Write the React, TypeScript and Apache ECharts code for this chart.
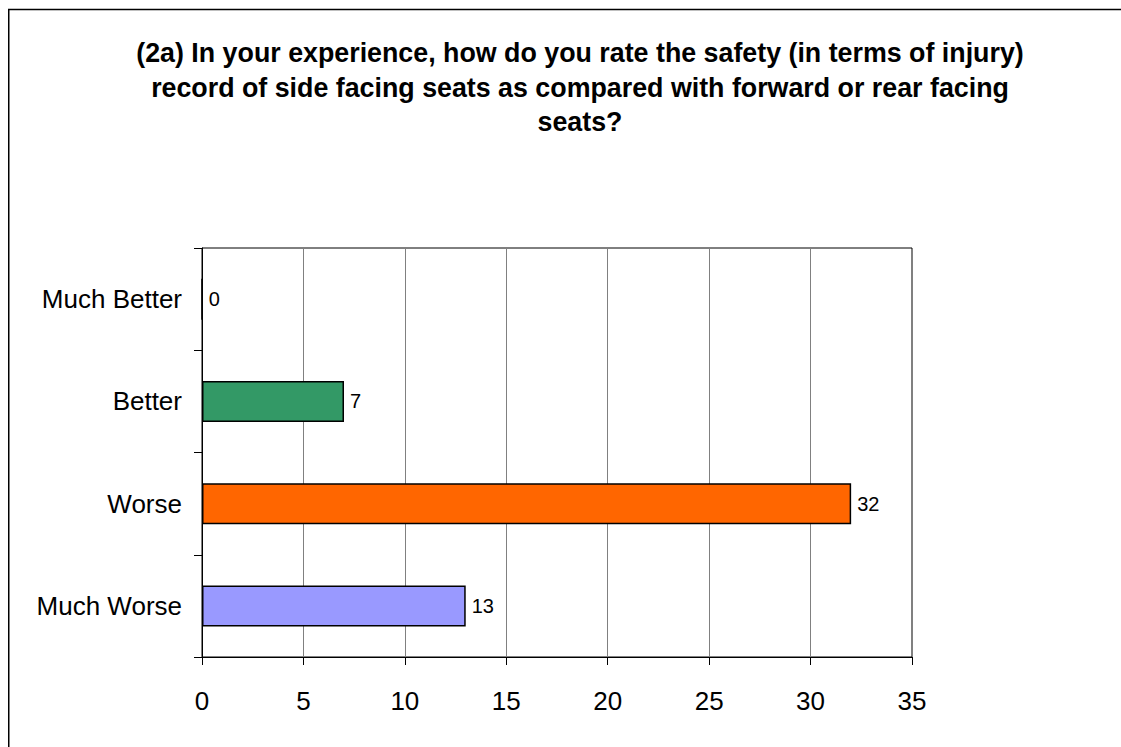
import React, { useEffect, useRef } from "react";
import * as echarts from "echarts";

const titleText =
  "(2a) In your experience, how do you rate the safety (in terms of injury)\nrecord of side facing seats as compared with forward or rear facing\nseats?";
const categories = ["Much Better", "Better", "Worse", "Much Worse"];
const values = [0, 7, 32, 13];
const barColors = ["#9999FF", "#339966", "#FF6600", "#9999FF"];
const xTicks = { min: 0, max: 35, interval: 5 };

const FONT = "'Liberation Sans', Arial, sans-serif";

export default function App() {
  const ref = useRef<HTMLDivElement>(null);
  useEffect(() => {
    if (!ref.current) return;
    const chart = echarts.init(ref.current, undefined, { renderer: "svg" });
    chart.setOption({
      animation: false,
      backgroundColor: "#ffffff",
      textStyle: { fontFamily: FONT },
      graphic: [
        {
          type: "polyline",
          shape: { points: [[0.75, 739], [0.75, 1.5], [1113, 1.5]] },
          style: { fill: "none", stroke: "#000", lineWidth: 1.5 },
          silent: true,
        },
      ],
      title: {
        text: titleText,
        left: 567,
        top: 23,
        textAlign: "center",
        textStyle: {
          fontFamily: FONT,
          fontSize: 26.8,
          fontWeight: "bold",
          color: "#000",
          lineHeight: 34.5,
        },
      },
      grid: {
        left: 194,
        top: 240,
        width: 710,
        height: 409,
        show: true,
        borderColor: "#000",
        borderWidth: 1,
        containLabel: false,
      },
      xAxis: {
        type: "value",
        min: xTicks.min,
        max: xTicks.max,
        interval: xTicks.interval,
        axisLine: { show: true, lineStyle: { color: "#000", width: 1 } },
        axisTick: { show: true, length: 8, inside: false, lineStyle: { color: "#000" } },
        axisLabel: { fontSize: 26, color: "#000", margin: 31, fontFamily: FONT },
        splitLine: { show: true, lineStyle: { color: "#808080", width: 1 } },
      },
      yAxis: {
        type: "category",
        data: categories,
        inverse: true,
        axisLine: { show: true, lineStyle: { color: "#000", width: 1 } },
        axisTick: { show: true, length: 8, alignWithLabel: false, lineStyle: { color: "#000" } },
        axisLabel: { fontSize: 26, color: "#000", margin: 20, fontFamily: FONT },
        splitLine: { show: false },
      },
      series: [
        {
          type: "bar",
          data: values.map((v, i) => ({ value: v, itemStyle: { color: barColors[i] } })),
          barWidth: 41,
          itemStyle: { borderColor: "#000", borderWidth: 1.5 },
          label: {
            show: true,
            position: "right",
            distance: 6,
            fontSize: 20,
            color: "#000",
            fontFamily: FONT,
          },
        },
      ],
    });
    return () => chart.dispose();
  }, []);
  return (
    <div
      ref={ref}
      style={{ position: "fixed", left: 8, top: 8, width: 1113, height: 739 }}
    />
  );
}
